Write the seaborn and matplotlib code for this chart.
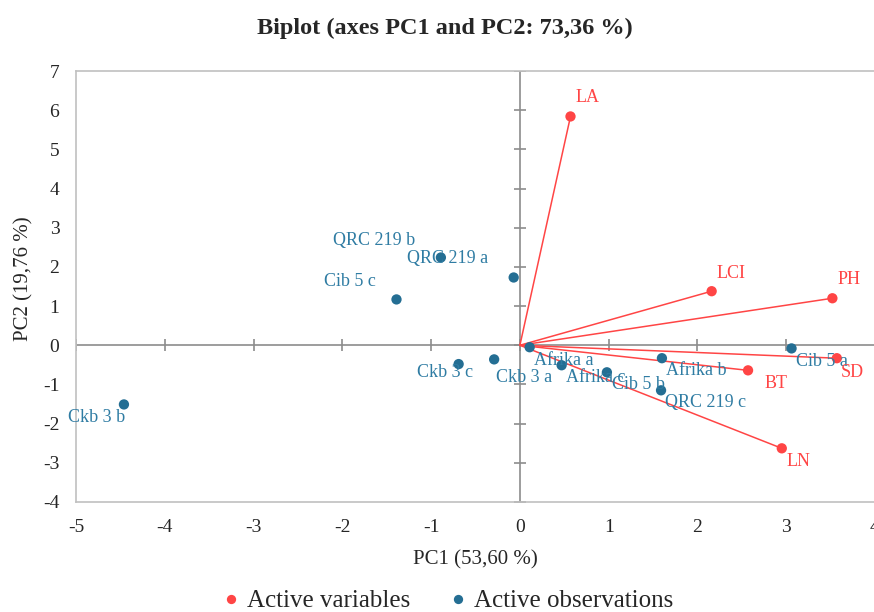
import matplotlib
matplotlib.use("Agg")
import matplotlib.pyplot as plt
import seaborn as sns
import pandas as pd

# ---- data ----
obs_names = ["Ckb 3 b", "Cib 5 c", "QRC 219 b", "QRC 219 a", "Ckb 3 c", "Ckb 3 a",
             "Afrika a", "Afrika c", "Cib 5 b", "Afrika b", "QRC 219 c", "Cib 5 a"]
obs_pc1 = [-4.46, -1.39, -0.89, -0.07, -0.69, -0.29, 0.11, 0.47, 0.98, 1.60, 1.59, 3.06]
obs_pc2 = [-1.51, 1.17, 2.24, 1.73, -0.48, -0.36, -0.05, -0.51, -0.69, -0.33, -1.15, -0.08]

var_names = ["LA", "LCI", "PH", "SD", "BT", "LN"]
var_pc1 = [0.57, 2.16, 3.52, 3.57, 2.57, 2.95]
var_pc2 = [5.84, 1.38, 1.20, -0.33, -0.64, -2.63]

x_ticks = [-5, -4, -3, -2, -1, 0, 1, 2, 3, 4]
y_ticks = [-4, -3, -2, -1, 0, 1, 2, 3, 4, 5, 6, 7]

# label offsets in pixels (dx, dy, ha)
obs_offsets = {
    "Ckb 3 b": (1, -13, "right"), "Cib 5 c": (-21, 18, "right"),
    "QRC 219 b": (-26, 17, "right"), "QRC 219 a": (-26, 19, "right"),
    "Ckb 3 c": (-14, -8, "center"), "Ckb 3 a": (2, -18, "left"),
    "Afrika a": (4, -13, "left"), "Afrika c": (4, -12, "left"),
    "Cib 5 b": (5, -12, "left"), "Afrika b": (4, -12, "left"),
    "QRC 219 c": (4, -12, "left"), "Cib 5 a": (4, -13, "left"),
}
var_offsets = {
    "LA": (5, 19), "LCI": (5, 18), "PH": (5, 19),
    "SD": (4, -14), "BT": (16, -13), "LN": (5, -13),
}

RED = "#FF4545"
BLUE = "#246E93"
BLUE_TXT = "#2F7CA3"

sns.set_style("white")
plt.rcParams["font.family"] = ["Liberation Serif", "DejaVu Serif"]
plt.rcParams["axes.unicode_minus"] = False

df = pd.concat([
    pd.DataFrame({"PC1": var_pc1, "PC2": var_pc2, "name": var_names, "grp": "Active variables"}),
    pd.DataFrame({"PC1": obs_pc1, "PC2": obs_pc2, "name": obs_names, "grp": "Active observations"}),
], ignore_index=True)

fig = plt.figure(figsize=(8.74, 6.12), dpi=100)
ax = fig.add_axes([76 / 874, (612 - 502) / 612, (875 - 76) / 874, (502 - 71) / 612])

# center lines
ax.axhline(0, color="#8c8c8c", lw=1.2, zorder=1)
ax.axvline(0, color="#8c8c8c", lw=1.2, zorder=1)
ax.scatter(x_ticks, [0] * len(x_ticks), marker="|", s=70, color="#8c8c8c", lw=1.2, zorder=1)
ax.scatter([0] * len(y_ticks), y_ticks, marker="_", s=70, color="#8c8c8c", lw=1.2, zorder=1)

# vectors
for x, y in zip(var_pc1, var_pc2):
    ax.plot([0, x], [0, y], color=RED, lw=1.1, zorder=2)

sns.scatterplot(data=df, x="PC1", y="PC2", hue="grp",
                palette={"Active variables": RED, "Active observations": BLUE},
                s=55, edgecolor="none", ax=ax, zorder=3, clip_on=False)

for n, x, y in zip(obs_names, obs_pc1, obs_pc2):
    dx, dy, ha = obs_offsets[n]
    ax.annotate(n, (x, y), xytext=(dx, dy), textcoords="offset pixels",
                ha=ha, va="center", fontsize=13, color=BLUE_TXT, zorder=4)
for n, x, y in zip(var_names, var_pc1, var_pc2):
    dx, dy = var_offsets[n]
    ax.annotate(n, (x, y), xytext=(dx, dy), textcoords="offset pixels",
                ha="left", va="center", fontsize=13, color=RED, zorder=4)

ax.set_xlim(-5, 4)
ax.set_ylim(-4, 7)
ax.set_xticks(x_ticks)
ax.set_yticks(y_ticks)
ax.tick_params(axis="y", length=0, labelsize=14, pad=12)
ax.tick_params(axis="x", length=0, labelsize=14, pad=12)
for s in ["left", "top", "bottom", "right"]:
    ax.spines[s].set_color("#c0c0c0")
    ax.spines[s].set_linewidth(1.2)
ax.spines["right"].set_visible(False)

fig.text(475 / 874, 1 - 560 / 612, "PC1 (53,60 %)", ha="center", va="center", fontsize=15)
fig.text(24 / 874, 1 - 279 / 612, "PC2 (19,76 %)", ha="center", va="center",
         fontsize=15, rotation=90)
ax.set_xlabel("")
ax.set_ylabel("")
fig.text(445 / 874, 1 - 28 / 612, "Biplot (axes PC1 and PC2: 73,36 %)",
         ha="center", va="center", fontsize=17.5, fontweight="bold")

ax.legend_.remove()
handles, labels = ax.get_legend_handles_labels()
leg = fig.legend(handles, labels, loc="center", bbox_to_anchor=(448 / 874, 1 - 601 / 612),
                 ncol=2, frameon=False, fontsize=18, handlelength=0.6, handletextpad=0.35,
                 columnspacing=1.6, markerscale=0.9)

fig.savefig("out.png", dpi=100)
